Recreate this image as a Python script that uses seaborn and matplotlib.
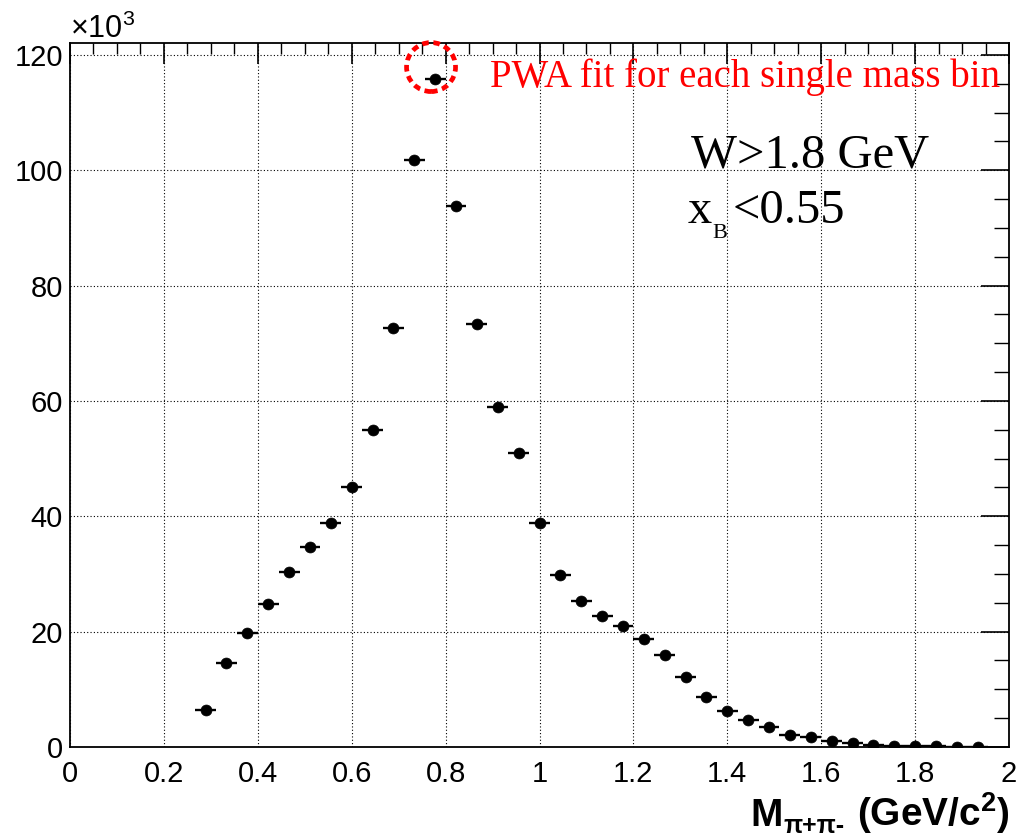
import numpy as np
import pandas as pd
import matplotlib
matplotlib.use("Agg")
import matplotlib.pyplot as plt
from matplotlib.patches import Ellipse
from matplotlib.ticker import MultipleLocator
import seaborn as sns

# ---- data (counts in units of 10^3) ----
mass_centers = [0.28889, 0.33333, 0.37778, 0.42222, 0.46667, 0.51111, 0.55556, 0.60000,
                0.64444, 0.68889, 0.73333, 0.77778, 0.82222, 0.86667, 0.91111, 0.95556,
                1.00000, 1.04444, 1.08889, 1.13333, 1.17778, 1.22222, 1.26667, 1.31111,
                1.35556, 1.40000, 1.44444, 1.48889, 1.53333, 1.57778, 1.62222, 1.66667,
                1.71111, 1.75556, 1.80000, 1.84444, 1.88889, 1.93333]
counts_k = [6.5, 14.5, 19.7, 24.8, 30.3, 34.6, 38.9, 45.1,
            55.0, 72.6, 101.8, 115.9, 93.8, 73.3, 59.0, 50.9,
            38.9, 29.8, 25.4, 22.8, 21.0, 18.7, 16.0, 12.1,
            8.6, 6.2, 4.7, 3.4, 2.1, 1.8, 1.1, 0.75,
            0.4, 0.25, 0.15, 0.1, 0.08, 0.05]
bin_width = 2.0 / 45
x_ticks = [0, 0.2, 0.4, 0.6, 0.8, 1, 1.2, 1.4, 1.6, 1.8, 2]
x_tick_labels = ["0", "0.2", "0.4", "0.6", "0.8", "1", "1.2", "1.4", "1.6", "1.8", "2"]
y_ticks = [0, 20, 40, 60, 80, 100, 120]
y_tick_labels = ["0", "20", "40", "60", "80", "100", "120"]
highlight_mass = 0.769
highlight_count = 117.9

df = pd.DataFrame({"mass": mass_centers, "counts": counts_k})

sns.set_theme(style="white")
plt.rcParams["font.family"] = ["Liberation Sans", "DejaVu Sans"]
plt.rcParams["mathtext.fontset"] = "custom"
plt.rcParams["mathtext.rm"] = "Liberation Sans"
plt.rcParams["mathtext.bf"] = "Liberation Sans:bold"

W, H = 1019, 836
fig = plt.figure(figsize=(W / 100, H / 100), dpi=100)
ax = fig.add_axes([70 / W, 1 - 747 / H, (1009 - 70) / W, (747 - 43) / H])

# horizontal bin-width bars
ax.errorbar(df["mass"], df["counts"], xerr=bin_width / 2, yerr=np.sqrt(np.array(counts_k) * 1000) / 1000,
            fmt="none", ecolor="black", elinewidth=1.7, capsize=0, zorder=3)
sns.scatterplot(data=df, x="mass", y="counts", ax=ax, color="black", s=62,
                edgecolor="black", linewidth=0.5, zorder=4, legend=False)

ax.set_xlim(0, 2)
ax.set_ylim(0, 122.07)
ax.set_xticks(x_ticks)
ax.set_xticklabels(x_tick_labels)
ax.set_yticks(y_ticks)
ax.set_yticklabels(y_tick_labels)
ax.xaxis.set_minor_locator(MultipleLocator(0.05))
ax.yaxis.set_minor_locator(MultipleLocator(5))
ax.set_xlabel("")
ax.set_ylabel("")

ax.tick_params(axis="both", which="both", direction="in", top=True, right=True,
               color="black", labelsize=21, labelcolor="black")
ax.tick_params(axis="x", which="major", length=15, width=1.2, pad=9)
ax.tick_params(axis="x", which="minor", length=8, width=1.0)
ax.tick_params(axis="y", which="major", length=20, width=1.2, pad=5)
ax.tick_params(axis="y", which="minor", length=11, width=1.0)

ax.grid(True, which="major", color="black", linestyle=(0, (1, 2)), linewidth=0.8)
ax.set_axisbelow(True)
for sp in ax.spines.values():
    sp.set_color("black")
    sp.set_linewidth(1.3)

# red dashed circle around the peak bin
px_x = (1009 - 70) / 2.0
px_y = (747 - 43) / 122.07
circ = Ellipse((highlight_mass, highlight_count), width=49 / px_x, height=49 / px_y,
               fill=False, edgecolor="red", linewidth=3.4, linestyle=(0, (1.4, 1.0)),
               clip_on=False, zorder=5)
ax.add_patch(circ)

serif = ["Liberation Serif", "DejaVu Serif"]
fig.text(490 / W, 1 - 87 / H, "PWA fit for each single mass bin", color="red",
         fontsize=28, family=serif, ha="left", va="baseline")
fig.text(691 / W, 1 - 168 / H, "W>1.8 GeV", color="black",
         fontsize=35, family=serif, ha="left", va="baseline")
fig.text(688 / W, 1 - 223 / H, "x", color="black",
         fontsize=35, family=serif, ha="left", va="baseline")
fig.text(712 / W, 1 - 238 / H, "B", color="black",
         fontsize=16, family=serif, ha="left", va="baseline")
fig.text(733 / W, 1 - 223 / H, "<0.55", color="black",
         fontsize=35, family=serif, ha="left", va="baseline")

fig.text(70 / W, 1 - 38 / H, r"×10$^{\mathregular{3}}$", fontsize=22, ha="left", va="baseline",
         color="black")

# x-axis title: M_{pi+pi-} (GeV/c^2), right aligned at the frame edge
renderer = fig.canvas.get_renderer()
t_unit = fig.text(1010 / W, 1 - 826 / H, r"(GeV/c$^{\mathregular{2}}$)",
                  fontsize=28, fontweight="bold", ha="right", va="baseline", color="black")
x_left = t_unit.get_window_extent(renderer).x0 - 13
t_sub = fig.text(x_left / W, 1 - 833 / H, "π+π-", fontsize=18, fontweight="bold",
                 ha="right", va="baseline", color="black")
x_left2 = t_sub.get_window_extent(renderer).x0
fig.text(x_left2 / W, 1 - 826 / H, "M", fontsize=28, fontweight="bold",
         ha="right", va="baseline", color="black")

fig.savefig("out.png", dpi=100, facecolor="white")
